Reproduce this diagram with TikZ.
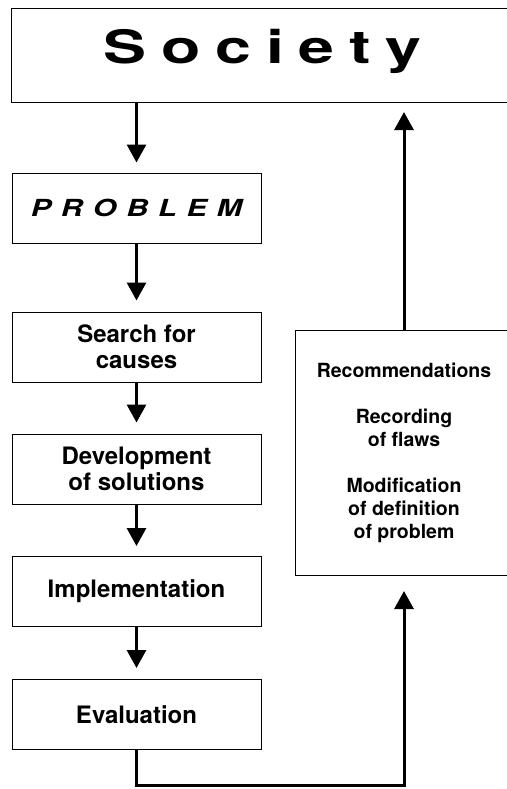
\documentclass[tikz,border=0pt]{standalone}
\usepackage{fontspec}
\setmainfont{TeX Gyre Heros}
\usetikzlibrary{arrows.meta,calc}
\begin{document}
\begin{tikzpicture}[x=1pt,y=-1pt,
  box/.style={draw, line width=1pt, rectangle, inner sep=0pt, minimum width=249pt,
    minimum height=70pt, align=center, font=\fontsize{24}{26}\selectfont\bfseries},
  flow/.style={line width=3pt, -{Triangle[width=19pt,length=18pt]}},
  frame/.style={draw, line width=1pt, rectangle, inner sep=0pt}
]
\useasboundingbox (0,0) rectangle (506,789);
% Society
\node[frame, minimum width=560pt, minimum height=94pt, anchor=north west] (soc) at (11,8) {};
\node[anchor=base, inner sep=0pt, font=\fontsize{46}{50}\selectfont\bfseries] (soctext) at (262.5,64)
  {\scalebox{1.4}[1]{S\hspace{10.6pt}o\hspace{10.6pt}c\hspace{10.6pt}i\hspace{10.6pt}e\hspace{10.6pt}t\hspace{10.6pt}y}};
% left column
\node[box] (prob) at (136.5,208)
  {\fontsize{23.5}{26}\selectfont\bfseries\itshape\scalebox{1.3}[1]{P\hspace{7.5pt}R\hspace{7.5pt}O\hspace{7.5pt}B\hspace{7.5pt}L\hspace{7.5pt}E\hspace{7.5pt}M}};
\node[box] (search) at (136.5,347) {Search for\\causes};
\node[box] (dev) at (136.5,469) {Development\\of solutions};
\node[box] (impl) at (136.5,591.5) {Implementation};
\node[box] (eval) at (136.5,714.5) {Evaluation};
% right box
\node[frame, minimum width=260pt, minimum height=245pt, anchor=north west] (rbox) at (295,330) {};
\node[anchor=north, inner sep=0pt, align=center, font=\fontsize{19.5}{23}\selectfont\bfseries] (rtext) at (404,363)
  {Recommendations\\[23pt]Recording\\of flaws\\[23pt]Modification\\of definition\\of problem};
% connectors
\draw[flow, shorten >=10pt] (prob.north |- soc.south) -- (prob.north);
\draw[flow, shorten >=11pt] (prob.south) -- (search.north);
\draw[flow, shorten >=11pt] (search.south) -- (dev.north);
\draw[flow, shorten >=10pt] (dev.south) -- (impl.north);
\draw[flow, shorten >=11pt] (impl.south) -- (eval.north);
\draw[flow, shorten >=15pt] (eval.south) -- ++(0,35) -| (rtext |- rbox.south);
\draw[flow, shorten >=9pt] (rtext |- rbox.north) -- (rtext |- soc.south);
\end{tikzpicture}
\end{document}
